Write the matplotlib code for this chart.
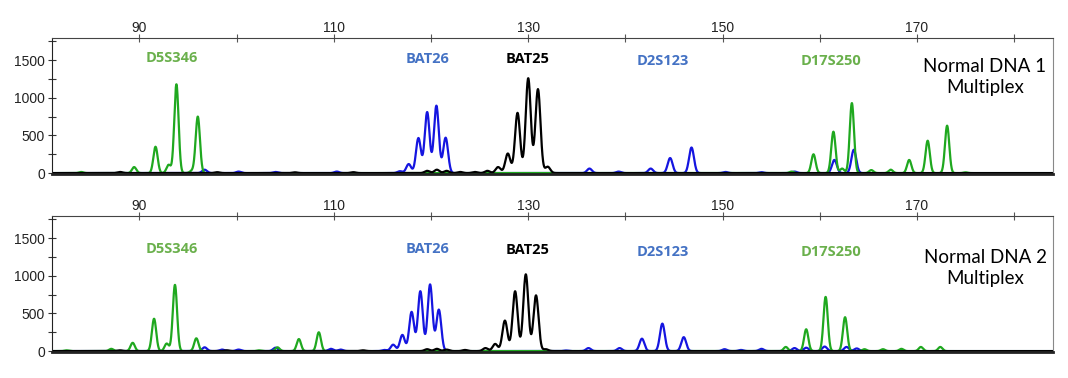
import numpy as np
import matplotlib.pyplot as plt

# ============================================================
# Peak tables (size in bp, height in RFU)
# ============================================================

# Normal DNA 1
p1_green_pos = [84.0, 89.45, 91.65, 93.0, 93.8, 95.4, 96.0,
                157.1, 159.35, 161.4, 162.3, 163.3, 165.3, 167.3, 169.2, 171.1, 173.1, 175.0]
p1_green_h = [15, 80, 350, 110, 1180, 30, 750,
              20, 250, 550, 60, 930, 40, 45, 175, 430, 630, 10]

p1_blue_pos = [96.7, 100.2, 104.0, 110.3, 116.8, 117.7, 118.7, 119.6, 120.55, 121.5,
               136.3, 139.3, 142.6, 144.6, 146.8, 150.3, 154.0, 157.4, 161.5, 163.5]
p1_blue_h = [45, 20, 15, 20, 25, 120, 465, 810, 895, 470,
             60, 20, 60, 200, 340, 15, 12, 20, 175, 310]

p1_black_pos = [88.0, 98.0, 106.0, 112.0, 119.6, 120.6, 121.6, 123.0, 124.5,
                125.8, 126.9, 127.9, 128.9, 130.0, 131.0, 132.0]
p1_black_h = [15, 12, 10, 12, 30, 45, 30, 15, 15,
              30, 80, 260, 800, 1260, 1115, 85]

# Normal DNA 2
p2_green_pos = [82.5, 87.1, 89.3, 91.5, 92.8, 93.65, 95.85, 102.3, 104.2, 106.4, 108.45,
                156.5, 158.6, 160.6, 162.6, 164.6, 166.5, 168.4, 170.4, 172.4]
p2_green_h = [10, 30, 110, 430, 100, 880, 170, 10, 50, 160, 250,
              55, 290, 720, 450, 25, 25, 30, 55, 55]

p2_blue_pos = [96.7, 98.5, 100.2, 104.0, 109.7, 110.7, 115.2, 116.1, 117.05, 118.0, 118.9, 119.9, 120.8,
               133.9, 136.2, 139.4, 141.7, 143.8, 146.0, 150.2, 151.9, 154.0,
               157.4, 158.6, 160.5, 162.75, 163.8]
p2_blue_h = [50, 20, 20, 45, 30, 20, 15, 85, 215, 520, 795, 885, 550,
             8, 40, 40, 165, 365, 185, 25, 15, 30,
             40, 45, 60, 55, 35]

p2_black_pos = [88.0, 99.0, 113.0, 119.6, 120.6, 121.6, 123.5,
                125.6, 126.6, 127.6, 128.65, 129.75, 130.8, 131.8]
p2_black_h = [10, 10, 10, 25, 30, 20, 15,
              40, 95, 405, 795, 1020, 740, 25]

markers = ["D5S346", "BAT26", "BAT25", "D2S123", "D17S250"]
marker_x = [93.3, 119.6, 129.9, 143.8, 161.2]
marker_y1 = [1530, 1520, 1520, 1490, 1490]
marker_y2 = [1355, 1355, 1345, 1310, 1310]
marker_col = ["#6AB04C", "#4472C4", "#000000", "#4472C4", "#6AB04C"]

sample_names = ["Normal DNA 1\nMultiplex", "Normal DNA 2\nMultiplex"]

panels = [
    (p1_green_pos, p1_green_h, p1_blue_pos, p1_blue_h, p1_black_pos, p1_black_h, marker_y1),
    (p2_green_pos, p2_green_h, p2_blue_pos, p2_blue_h, p2_black_pos, p2_black_h, marker_y2),
]

bp = np.linspace(81, 184, 6000)


def trace(pos, h, sigma):
    y = np.zeros_like(bp)
    for p, a in zip(pos, h):
        y += a * np.exp(-0.5 * ((bp - p) / sigma) ** 2)
    return y


fig = plt.figure(figsize=(10.68, 3.78), dpi=100)
axes = [fig.add_axes([0.0487, 0.5397, 0.9373, 0.3598]),
        fig.add_axes([0.0487, 0.0688, 0.9373, 0.3598])]

for ax, panel, name in zip(axes, panels, sample_names):
    gp, gh, bl, bh, kp, kh, my = panel
    ax.plot(bp, trace(bl, bh, 0.25), color="#1515E0", lw=1.6)
    ax.plot(bp, trace(gp, gh, 0.22), color="#1FA81F", lw=1.6)
    ax.plot(bp, trace(kp, kh, 0.26), color="#000000", lw=1.6)

    ax.set_xlim(81, 184)
    ax.set_ylim(-12, 1795)
    ax.set_xticks([90, 110, 130, 150, 170])
    ax.set_xticks([100, 120, 140, 160, 180], minor=True)
    ax.set_yticks([0, 500, 1000, 1500])
    ax.set_yticks([250, 750, 1250, 1750], minor=True)
    ax.xaxis.tick_top()
    ax.tick_params(axis="x", which="both", direction="inout", length=6, width=0.8,
                   color="#555555", labelsize=10, pad=-1)
    ax.tick_params(axis="y", which="both", direction="inout", length=6, width=0.8,
                   color="#333333", labelsize=10, pad=2)
    for lab in ax.get_xticklabels() + ax.get_yticklabels():
        lab.set_family("Liberation Sans")
        lab.set_color("#222222")
    ax.spines["top"].set_color("#444444")
    ax.spines["right"].set_color("#888888")
    ax.spines["left"].set_color("#222222")
    ax.spines["bottom"].set_color("#222222")
    ax.spines["bottom"].set_linewidth(2.0)

    for t, x, y, c in zip(markers, marker_x, my, marker_col):
        ax.text(x, y, t, color=c, fontsize=10.5, fontweight="bold", family="Open Sans",
                ha="center", va="center")
    ax.text(177.0, my[0] - 250, name, fontsize=13.5, family="Lato", ha="center",
            va="center", linespacing=1.3)

fig.savefig("out.png", dpi=100)
